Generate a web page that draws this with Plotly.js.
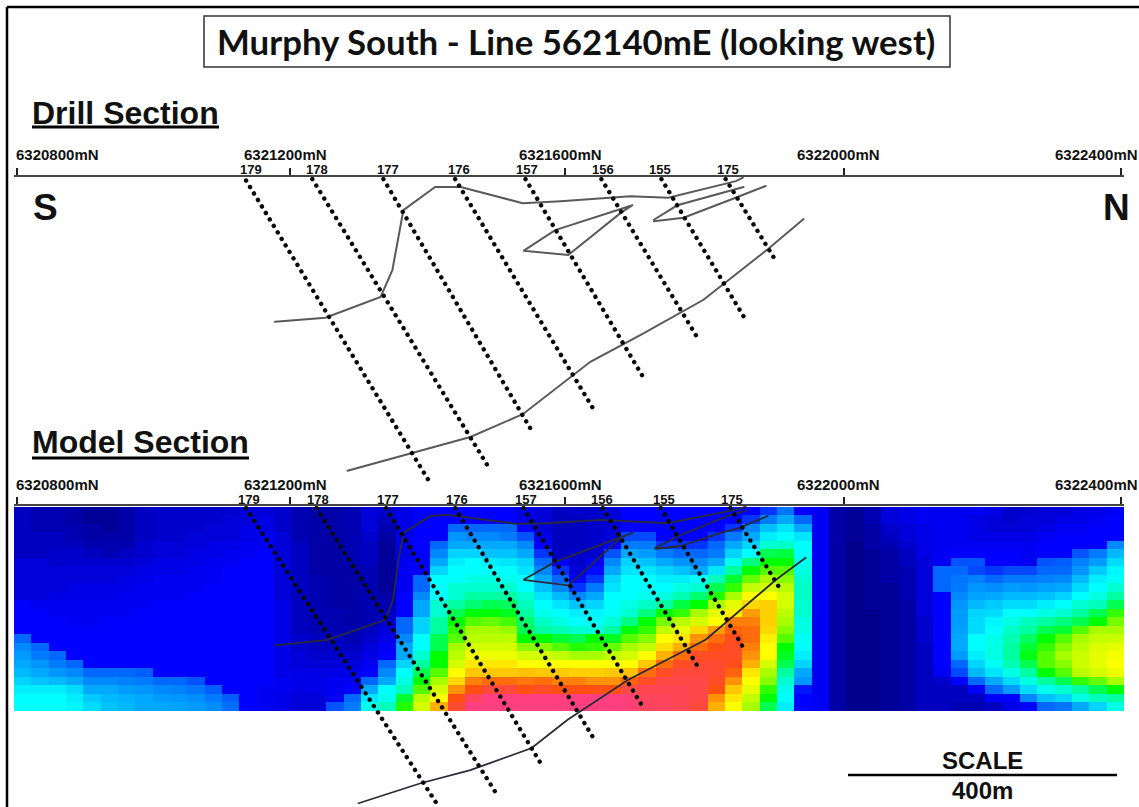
<!DOCTYPE html>
<html>
<head>
<meta charset="utf-8">
<script src="https://cdn.plot.ly/plotly-3.0.1.min.js"></script>
<style>
html,body{margin:0;padding:0;background:#fff}
#chart{width:1139px;height:807px}
path.js-line{stroke-linecap:round}
</style>
</head>
<body>
<div id="chart"></div>
<script>
// Horizontal positions are metres north of 6320800mN, vertical are metres below the section line.
const tickLabels = ['6320800mN','6321200mN','6321600mN','6322000mN','6322400mN'];
const tickPositions = [0,395,794,1199,1600];

const holeIds = ['179','178','177','176','157','156','155','175'];
const drillHoleTopN = [332,428,531,635,737,847,934,1027];
const drillHoleTopD = [5,3,3,3,3,3,3,3];
const drillHoleEndN = [596,686,749,837,908,988,1056,1097];
const drillHoleEndD = [439,425,373,339,291,236,207,117];
const modelHoleTopN = [332,434,535,635,734,849,933,1034];
const modelHoleEndN = [608,696,759,837,908,988,1053,1104];
const modelHoleEndD = [431,419,373,339,293,235,206,117];

const drillSurfaceN = [374,447,527,544,556,560,606,643,733,788,889,944,1042,1052];
const drillSurfaceD = [210,204,174,135,70,48,14.5,14.5,38,35,28,30,6,1];
const drillLensUpperN = [923,957,1053];
const drillLensUpperD = [62,41,14.5];
const drillLensLowerN = [923,966,1034,1085];
const drillLensLowerD = [64,59,33,13];
const drillWedgeN = [892,780,734,799,875,892];
const drillWedgeD = [41,77,107,113,52,41];
const drillBaseN = [479,577,657,733,831,904,995,1089,1140];
const drillBaseD = [426,399,377,344,268,229,178,104,61];

const modelSurfaceN = [374,450,534,545,553,560,599,624,725,769,846,943,1039,1056];
const modelSurfaceD = [202,194,165,136,78,39,14.5,13,26,25,20,25,6,1];
const modelLensUpperN = [925,962,1034,1056];
const modelLensUpperD = [61,42,13,7];
const modelLensLowerN = [925,962,1020,1046,1088];
const modelLensLowerD = [62,58,39,32,14.5];
const modelWedgeN = [892,780,734,799,827,875,892];
const modelWedgeD = [39,81,107,115,90,46,39];
const modelBaseN = [495,585,657,746,798,886,998,1056,1100,1143];
const modelBaseD = [431,402,383,351,310,252,194,144,107,75];

// Model grid, one list per column from south to north, each from top row to bottom row.
const modelColumns = [
[.5,.5,.5,.5,.5,.5,.7,.7,.7,.7,.7,1,1,1,1,2,2.5,2.8,3,3.2,3.5,3.8,4,4],
[.4,.4,.4,.5,.5,.5,.7,.7,.7,.7,.7,.9,1,1,1,1,2,2.3,2.7,3,3.3,3.8,4,4],
[.4,.4,.4,.5,.5,.6,.6,.7,.7,.7,.8,.9,.9,1,1,1,1,2,2.3,2.7,3.2,3.8,4,4],
[.3,.3,.4,.4,.5,.6,.6,.7,.7,.8,.8,.9,.9,.9,1,1,1,1,2,2.5,3,3.6,3.8,3.9],
[.2,.2,.3,.3,.4,.5,.6,.7,.7,.8,.8,.9,.9,.9,1,1,1,1,1,2,2.5,3,3.4,3.6],
[.2,.2,.2,.3,.4,.4,.6,.7,.7,.8,.8,.9,.9,1,1,1,1,1,1,2,2.5,3,3.2,3.3],
[.3,.3,.3,.3,.4,.5,.6,.7,.8,.8,.9,.9,.9,1,1,1,1,1,1,2,2.4,2.8,3.1,3.2],
[.5,.5,.5,.5,.6,.6,.7,.8,.8,.9,.9,.9,1,1,1,1,1,1,1,1.9,2.3,2.7,3,3],
[.6,.6,.6,.6,.7,.7,.8,.8,.9,.9,.9,1,1,1,1,1,1,1,1,1,2,2.5,2.8,3],
[.6,.6,.6,.6,.7,.7,.8,.8,.9,.9,.9,1,1,1,1,1,1,1,1,1,2,2.4,2.7,2.9],
[.6,.6,.6,.7,.7,.8,.8,.9,.9,.9,1,1,1,1,1,1,1,1,1,1,1.8,2.2,2.6,2.8],
[.6,.6,.7,.7,.8,.8,.9,.9,.9,1,1,1,1,1,1,1,1,1,1,1,1,1.9,2.3,2.6],
[.6,.7,.7,.7,.8,.9,.9,1,1,1,1,1,1,1,1,1,1,1,1,1,1,1,1.9,2.1],
[.7,.7,.8,.8,.9,.9,1,1,1,1,1,1,1,1,1,1,1,1,1,1,1,1,1,1],
[.7,.8,.8,.9,.9,1,1,1,1,1,1,1,1,1,1,1,1,1,1,1,1,.9,.9,.9],
[.6,.6,.6,.7,.7,.7,.7,.7,.7,.7,.7,.8,.8,.8,.8,.8,.8,.8,.8,.8,.9,.9,.8,.8],
[.4,.4,.4,.4,.5,.5,.5,.5,.5,.5,.5,.5,.5,.5,.5,.6,.6,.7,.7,.8,.8,.8,.7,.7],
[.3,.3,.3,.3,.3,.3,.3,.3,.4,.4,.4,.4,.4,.4,.4,.5,.5,.6,.7,.8,.8,.8,.7,.7],
[.3,.3,.3,.3,.3,.3,.3,.3,.3,.3,.3,.3,.4,.4,.4,.5,.5,.6,.7,.8,.9,.9,.9,1.8],
[.4,.4,.4,.4,.4,.4,.4,.3,.3,.3,.3,.3,.3,.3,.4,.4,.5,.6,.7,.8,.9,1,2,2.3],
[.7,.7,.7,.6,.5,.5,.5,.4,.4,.4,.4,.4,.4,.4,.5,.6,.7,.8,.9,1,2,3,3.7,4.2],
[.6,.5,.4,.3,.2,.2,.2,.2,.2,.2,.3,.4,.5,.6,.7,.8,.9,1,2,2.5,3,4,4.2,4.7],
[.8,.8,.8,.8,.8,.8,.9,.9,.9,.9,1,1,1,2,2,2.5,3,3,3.5,4,4.3,4.7,5.7,6.2],
[1,1,1,1,1,1,1,1,2,2,2.5,3,3,3.5,3.5,4,4,4.5,5,5.5,6,6.5,7.2,7.5],
[1,1,1,1,2,2.5,3,3.5,4,4,4,4.5,4.5,5,5,5.5,5.5,6,6,6.5,7,7.5,8,9],
[1,1,2,2.7,3,3.5,3.8,4,4,4.5,4.5,5,5.5,6,6.3,6.5,7,7.2,7.5,8,8.5,9.3,10,10.3],
[1,1,2,2.5,3,3.5,4,4,4.3,4.5,5,5.3,6,6.5,7,7.2,7.5,7.8,8.3,8.7,9.5,10,10.7,11],
[1,1,2,2.5,3,3.3,3.8,4,4.3,4.5,5,5.5,6,6.6,7,7.2,7.5,7.8,8.3,8.7,9.7,10.4,11,11],
[1,1,2,2.3,3,3.3,3.7,4,4.2,4.5,5,5.4,5.8,6.4,6.9,7.2,7.5,7.8,8.3,8.7,9.7,10.4,11,11],
[.8,.8,1,1.8,2.5,3,3.5,3.7,4,4,4.5,4.7,5,5.3,5.5,6,6.8,7.5,8,8.8,9.6,10,11,11],
[.7,.7,.7,.8,1,1.5,2,2.5,3,3.3,3.7,4,4.2,4.6,5,6,6.8,7.5,8,8.7,9.7,10.2,11,11],
[.5,.5,.5,.5,.5,.5,1,1.5,2,2.5,3.2,3.7,4,4.3,4.8,5.7,6.5,7.3,8,8.7,9.5,10,11,11],
[.6,.5,.5,.5,.5,.6,.6,.7,1,1.5,2.5,3.3,3.8,4,4.5,5.5,6.2,7,8,8.6,9.5,10,11,11],
[.6,.6,.6,.6,.6,.6,.9,1.1,1.5,2.3,3,3.5,3.9,4.1,4.4,6,6.3,7,8,8.6,9.3,10,11,11],
[.7,.7,.7,.7,1,1.8,2.5,3,3.5,3.7,4,4,4.1,4.4,5,5.8,6.6,7.3,8,8.7,9.3,10,11,11],
[1,1,1,1.7,2.3,3,3.5,3.7,4,4,4,4.3,4.5,5.2,6,6.5,7,7.5,8,8.8,9.8,10.5,10.9,10.9],
[1,1,1,1.7,2.3,2.8,3.3,3.7,4,4,4.2,4.6,5.2,6,6.3,6.8,7.3,8,8.7,9.7,10.2,10.6,10.7,10.7],
[1,1,1,1,1.5,2.3,3,3.5,3.8,4,4.3,5,6,6.7,7.3,8,8.4,9,9.7,10.2,10.5,10.6,10.7,10.7],
[1,1,1,1,1.5,2,2.7,3.3,3.8,4.3,4.8,5.6,6.3,7.2,7.7,8.3,9,9.7,10.2,10.4,10.5,10.6,10.6,10.6],
[1,1,1,1,1.5,2,2.5,3,4,4.5,5.3,6,7,7.5,8.5,9.3,9.7,10.2,10.3,10.4,10.5,10.5,10.5,10.4],
[1,1,1,1.5,2,2.3,3,3.7,4.7,5.5,6.2,7,7.7,8,9.2,9.7,10,10.2,10.3,10.3,10.2,10,9.3,9],
[1,1,1.5,2.3,3,3.5,4.2,5,5.7,6.3,7,7.7,8.2,9.5,9.8,10.1,10.2,10.2,10.1,9.8,9.3,8.7,8.3,8],
[1,1.5,2.5,3,3.5,4,5.2,6,6.6,7.3,8,8.5,9.2,9.5,9.7,9.7,9.5,9.3,9,8.3,8,7.7,7.3,7],
[1.5,2.3,3.3,3.8,4.5,5.5,6,6.5,7,7.5,8,8.6,8.6,8.6,8.5,8.2,8,8,7.5,7,6.8,6.3,6,5.5],
[2.2,3,3.7,4,4.6,5.6,6,6.5,6.8,7.2,7.5,7.5,7.2,7,6.8,6.5,6,5.8,5.5,5,4.5,4.2,4,3.8],
[1,2,3,3.7,4,4,4.2,4.3,4.5,4.6,4.6,4.5,4.5,4.3,4.3,4.1,4,3.8,3.5,3,2.7,1.2,1,1],
[.9,.9,.9,.9,.9,.9,.9,.9,.9,.9,.9,.9,.9,.9,.9,.9,.9,.9,.9,.9,.9,.9,.9,.9],
[.3,.3,.3,.3,.3,.3,.3,.3,.3,.3,.3,.3,.3,.3,.3,.3,.3,.3,.3,.3,.3,.3,.3,.3],
[.2,.2,.2,.2,.1,.1,.1,.1,.1,.1,.1,.1,.1,.1,.1,.1,.1,.1,.1,.1,.1,.1,.1,.1],
[.4,.4,.3,.3,.3,.2,.2,.2,.2,.2,.2,.2,.1,.1,.1,.1,.1,.1,.1,.1,.1,.1,.1,.1],
[.7,.7,.6,.5,.4,.3,.3,.3,.3,.2,.2,.2,.2,.2,.2,.2,.2,.2,.2,.2,.2,.2,.2,.2],
[.8,.8,.7,.7,.6,.5,.5,.4,.4,.4,.4,.3,.3,.3,.3,.3,.3,.3,.3,.3,.3,.3,.3,.3],
[.9,.9,.8,.8,.8,.8,.7,.7,.7,.7,.7,.7,.7,.6,.6,.6,.5,.5,.5,.5,.5,.5,.5,.5],
[.9,.9,.9,.9,.9,.9,.9,2,2,2,1,1,1,1,1,1,1,1,1,.9,.6,.5,.5,.5],
[.9,.9,.9,.9,.9,1,1.8,2,2.2,2.3,2.5,2.7,2.8,2.8,2.9,3,3,2.8,2,1.7,1,.5,.5,.4],
[.9,.8,.8,.8,.9,1,1.8,1.7,2.4,2.7,2.9,3.2,3.5,3.6,3.6,4,4,3.8,3.5,3.2,2,.9,.5,.4],
[.8,.7,.7,.8,.9,1,1,1.5,2,2.6,3,3.4,3.6,3.9,4,4.2,4.3,4.3,4.1,3.7,3,2,1,.5],
[.6,.6,.7,.8,.9,1,1,1.7,2.3,2.8,3.2,3.6,4,4.3,4.6,4.8,5,5,4.8,4.3,3.6,2.8,1,.8],
[.6,.7,.7,.8,.9,.9,.9,1.7,2.3,2.7,3.2,3.6,4,4.7,5,5.4,5.7,5.9,5.5,5,4.3,3.6,2.5,1],
[.7,.7,.8,.9,1,1,1.8,2,2.4,2.9,3.3,3.8,4.3,5,5.5,6,6.3,6.5,6.5,6,5,4.2,3.3,2],
[.7,.8,.9,1,1,1,1.9,2,2.5,3,3.5,4,4.5,5.2,5.7,6.5,6.8,7,6.8,6.5,5.5,4.5,3.5,2.2],
[.8,.8,.9,1,1,1.8,2.4,2.7,3.2,3.6,4,4.5,5,5.5,6.5,7,7.2,7.4,7.4,7.2,6.3,5,4.3,3],
[.8,.9,1,1,1,2.3,2.8,3.4,3.8,4,4.3,4.7,5.5,6,7,7.3,7.6,7.7,7.7,7.5,6.6,5.5,4.7,3.5],
[.9,1,1,1,2.5,3.2,3.6,3.9,4.1,4.5,5,5.5,6.3,6.7,7,7.4,7.7,7.9,8,7.8,7,6,5,4.3]
];

const gradeColors = [
 [0,'#000080'],[1/11,'#0000ff'],[2/11,'#0068ff'],[3/11,'#00a8ff'],[4/11,'#00ffff'],
 [5/11,'#00ffa0'],[6/11,'#00ff00'],[7/11,'#a8ff00'],[8/11,'#ffff00'],[9/11,'#ffb000'],
 [10/11,'#ff5010'],[1,'#ff3f80']
];

const px = x => x/1139, py = y => 1-y/807;
const traces = [{
  type:'heatmap', xaxis:'x2', yaxis:'y2', z:modelColumns, transpose:true,
  x0:8.2, dx:25.14, y0:7.6, dy:12.325, zmin:0, zmax:11,
  colorscale:gradeColors, showscale:false, hoverinfo:'skip'
}];

function addLine(n,d,panel,color,width){
  traces.push({type:'scatter',mode:'lines',x:n,y:d,
    xaxis:panel===1?'x':'x2',yaxis:panel===1?'y':'y2',cliponaxis:false,
    line:{color:color,width:width},hoverinfo:'skip'});
}
const drillInk='#5a5a5a', modelInk='#2a2a3a';
[[drillSurfaceN,drillSurfaceD],[drillLensUpperN,drillLensUpperD],[drillLensLowerN,drillLensLowerD],
 [drillWedgeN,drillWedgeD],[drillBaseN,drillBaseD]].forEach(p=>addLine(p[0],p[1],1,drillInk,2));
[[modelSurfaceN,modelSurfaceD],[modelLensUpperN,modelLensUpperD],[modelLensLowerN,modelLensLowerD],
 [modelWedgeN,modelWedgeD],[modelBaseN,modelBaseD]].forEach(p=>addLine(p[0],p[1],2,modelInk,1.8));

function addHole(n0,d0,n1,d1,panel){
  traces.push({type:'scatter',mode:'lines',x:[n0,n1],y:[d0,d1],
    xaxis:panel===1?'x':'x2',yaxis:panel===1?'y':'y2',cliponaxis:false,
    line:{color:'#0a0a0a',width:4.4,dash:'0.1px,7.5px'},hoverinfo:'skip'});
}
holeIds.forEach((h,i)=>{
  addHole(drillHoleTopN[i],drillHoleTopD[i],drillHoleEndN[i],drillHoleEndD[i],1);
  addHole(modelHoleTopN[i],3,modelHoleEndN[i],modelHoleEndD[i],2);
});

const narrow='"Liberation Sans Narrow","Arial Narrow","Liberation Sans",sans-serif';
const arial='"Liberation Sans",Arial,sans-serif';
const note=(text,x,y,size,family,anchor,color)=>({text:text,x:px(x),y:py(y),xref:'paper',yref:'paper',
  showarrow:false,xanchor:anchor||'center',yanchor:'middle',borderpad:0,
  font:{family:family,size:size,color:color||'#111'}});

const tickLabelX=[15,285,560,838,1139], tickAnchors=['left','center','center','center','right'];
const annotations=[
  note('<b>Murphy South - Line 562140mE (looking west)</b>',576,42,34.8,'Lato'),
  note('<b>Drill Section</b>',125.5,113,32,arial),
  note('<b>Model Section</b>',140.5,442,32,arial),
  note('<b>S</b>',45,208,37,arial),
  note('<b>N</b>',1116,208,37,arial),
  note('<b>SCALE</b>',982.5,760,24,arial),
  note('<b>400m</b>',982,790,24,arial)
];
tickLabels.forEach((t,i)=>{
  annotations.push(note('<b>'+t+'</b>',tickLabelX[i],154,15,narrow,tickAnchors[i]));
  annotations.push(note('<b>'+t+'</b>',tickLabelX[i],484,15,narrow,tickAnchors[i]));
});
const drillLabelX=[251,317,388,459,527,603,660,728];
const modelLabelX=[249,318,388,457,526,602,664,732];
holeIds.forEach((h,i)=>{
  annotations.push(note('<b>'+h+'</b>',drillLabelX[i],170,13,narrow));
  annotations.push(note('<b>'+h+'</b>',modelLabelX[i],500,13,narrow));
});

const pageLine=(x0,y0,x1,y1,w,c)=>({type:'line',xref:'paper',yref:'paper',x0:px(x0),y0:py(y0),x1:px(x1),y1:py(y1),
  line:{color:c||'#000',width:w}});
const shapes=[
  pageLine(7,7,1139,7,2.5),
  pageLine(7,7,7,807,2.5),
  {type:'rect',xref:'paper',yref:'paper',x0:px(204),y0:py(16),x1:px(950),y1:py(67),line:{color:'#333',width:1.5},fillcolor:'#fff'},
  pageLine(32,127,219,127,3),
  pageLine(32,458,249,458,3),
  pageLine(848,775,1117,775,2.5)
];

const xBase={range:[-4.35,1604.4],tickmode:'array',tickvals:tickPositions,ticktext:tickLabels,showticklabels:false,
  ticks:'outside',ticklen:7,tickwidth:2,tickcolor:'#222',showline:true,linewidth:2,linecolor:'#444',
  showgrid:false,zeroline:false,side:'top',domain:[px(14),px(1124)],fixedrange:true};
const yBase={showticklabels:false,ticks:'',showline:false,showgrid:false,zeroline:false,fixedrange:true};

Plotly.newPlot('chart',traces,{
  width:1139,height:807,margin:{l:0,r:0,t:0,b:0,pad:0},paper_bgcolor:'#fff',plot_bgcolor:'rgba(0,0,0,0)',showlegend:false,
  xaxis:Object.assign({},xBase,{anchor:'y'}),
  xaxis2:Object.assign({},xBase,{anchor:'y2'}),
  yaxis:Object.assign({},yBase,{domain:[py(500),py(177)],range:[468.35,0],anchor:'x'}),
  yaxis2:Object.assign({},yBase,{domain:[py(807),py(506)],range:[436.45,0],anchor:'x2'}),
  shapes:shapes,annotations:annotations
},{displayModeBar:false,staticPlot:true});
</script>
</body>
</html>
